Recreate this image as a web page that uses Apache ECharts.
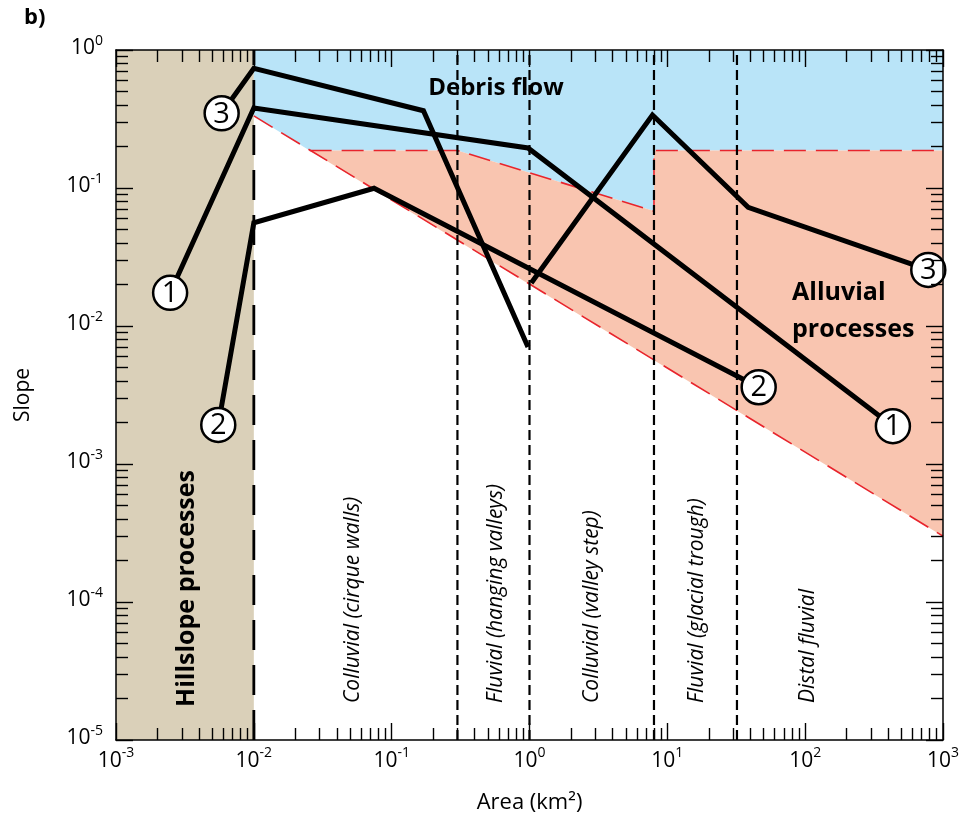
<!DOCTYPE html>
<html><head><meta charset="utf-8">
<script src="https://cdn.jsdelivr.net/npm/echarts@6/dist/echarts.min.js"></script>
<style>html,body{margin:0;padding:0;background:#fff}#c{width:961px;height:820px}</style>
</head><body><div id="c"></div>
<script>
// ---- data (area km², slope) ----
const xDecades = [-3, -2, -1, 0, 1, 2, 3];
const yDecades = [-5, -4, -3, -2, -1, 0];
const line1 = [[0.00247, 0.0174], [0.01, 0.38], [0.975, 0.195], [433, 0.00188]];
const line2 = [[0.00552, 0.00192], [0.01, 0.056], [0.0745, 0.0995], [46, 0.0036]];
const line3a = [[0.00584, 0.348], [0.01, 0.737], [0.17, 0.363], [0.975, 0.00705]];
const line3b = [[1.03, 0.0205], [7.8, 0.338], [38.6, 0.0725], [782, 0.0255]];
const zoneBounds = [0.3, 1, 8, 32];
const hillslopeBound = 0.01;
const zoneLabels = ['Colluvial (cirque walls)', 'Fluvial (hanging valleys)', 'Colluvial (valley step)', 'Fluvial (glacial trough)', 'Distal fluvial'];
const hillslopePoly = [[0.001, 1e-5], [0.01, 1e-5], [0.01, 1], [0.001, 1]];
const debrisPoly = [[0.01, 0.333], [0.0254, 0.187], [0.3, 0.187], [8, 0.068], [8, 0.187], [1000, 0.187], [1000, 1], [0.01, 1]];
const alluvialPoly = [[0.0254, 0.187], [0.3, 0.187], [8, 0.068], [8, 0.187], [1000, 0.187], [1000, 3.0e-4]];
const redDiag = [[0.01, 0.333], [1000, 3.0e-4]];
const redUpper = [[0.0254, 0.187], [0.3, 0.187], [8, 0.068], [8, 0.187], [1000, 0.187]];
const circleMarks = [
  { p: line1[0], n: '1' }, { p: line1[line1.length - 1], n: '1' },
  { p: line2[0], n: '2' }, { p: line2[line2.length - 1], n: '2' },
  { p: line3a[0], n: '3' }, { p: line3b[line3b.length - 1], n: '3' }
];

const FONT = 'Open Sans';
const XMIN = 1e-3, XMAX = 1e3, YMIN = 1e-5, YMAX = 1;
const BASE_FS = 21, SUP_FS = 14;

const mctx = document.createElement('canvas').getContext('2d');
function textW(t, fs) { mctx.font = fs + 'px "' + FONT + '"'; return mctx.measureText(t).width; }

function polySeries(points, style, z, kind) {
  return {
    type: 'custom', coordinateSystem: 'cartesian2d', z: z, silent: true, clip: false,
    data: [[1, 0.1]],
    renderItem: function (params, api) {
      return { type: kind, shape: { points: points.map(q => api.coord(q)) }, style: Object.assign({}, style) };
    }
  };
}

function txt(t, x, y, fs, align, vAlign) {
  return { type: 'text', x: x, y: y, style: { text: t, fontSize: fs, fontFamily: FONT, fill: '#000', align: align, verticalAlign: vAlign } };
}

const tickLabelSeries = {
  type: 'custom', coordinateSystem: 'cartesian2d', z: 9, silent: true, clip: false,
  data: [[1, 0.1]],
  renderItem: function (params, api) {
    const ch = [];
    xDecades.forEach(d => {
      const p = api.coord([Math.pow(10, d), YMIN]);
      const wb = textW('10', BASE_FS), ws = textW(String(d), SUP_FS);
      const left = p[0] - (wb + ws) / 2;
      ch.push(txt('10', left, p[1] + 21, BASE_FS, 'left', 'middle'));
      ch.push(txt(String(d), left + wb, p[1] + 13, SUP_FS, 'left', 'middle'));
    });
    yDecades.forEach(d => {
      const p = api.coord([XMIN, Math.pow(10, d)]);
      const ws = textW(String(d), SUP_FS);
      const right = p[0] - 13;
      ch.push(txt(String(d), right, p[1] - 9, SUP_FS, 'right', 'middle'));
      ch.push(txt('10', right - ws, p[1] - 2, BASE_FS, 'right', 'middle'));
    });
    return { type: 'group', children: ch };
  }
};

const circleSeries = {
  type: 'custom', coordinateSystem: 'cartesian2d', z: 12, silent: true, clip: false,
  data: circleMarks.map(c => [c.p[0], c.p[1], +c.n]),
  renderItem: function (params, api) {
    const c = api.coord([api.value(0), api.value(1)]);
    return { type: 'group', children: [
      { type: 'circle', shape: { cx: c[0], cy: c[1], r: 17 }, style: { fill: '#fff', stroke: '#000', lineWidth: 2.5 } },
      { type: 'text', x: c[0], y: c[1] + 1, style: { text: String(api.value(2)), fontSize: 29, fontFamily: FONT, fill: '#000', align: 'center', verticalAlign: 'middle' } }
    ] };
  }
};

function vLine(x, dash, width, z) {
  return polySeries([[x, YMIN], [x, YMAX]], { stroke: '#000', lineWidth: width, lineDash: dash, fill: null }, z, 'polyline');
}

function lineSeries(data) {
  return {
    type: 'line', data: data, z: 10, symbol: 'none', silent: true,
    lineStyle: { color: '#000', width: 5, join: 'miter', cap: 'butt' }
  };
}

// native axis ticks: majors at each decade, log minor ticks (2..9) via splitNumber 9
const axisLineStyle = { show: true, lineStyle: { color: '#000', width: 1.5 } };
const majorTick = { show: true, inside: true, length: 17, lineStyle: { color: '#000', width: 1.4 } };
const minorTickOpt = { show: true, splitNumber: 9, length: 12, lineStyle: { color: '#000', width: 1.4 } };

function xAxisDef(pos, extra) {
  return Object.assign({
    type: 'log', logBase: 10, min: XMIN, max: XMAX, splitNumber: 6, position: pos, z: 15,
    axisLine: axisLineStyle, axisTick: majorTick, minorTick: minorTickOpt,
    splitLine: { show: false }, minorSplitLine: { show: false }, axisLabel: { show: false }
  }, extra || {});
}
function yAxisDef(pos, extra) {
  return Object.assign({
    type: 'log', logBase: 10, min: YMIN, max: YMAX, splitNumber: 5, position: pos, z: 15,
    axisLine: axisLineStyle, axisTick: majorTick, minorTick: minorTickOpt,
    splitLine: { show: false }, minorSplitLine: { show: false }, axisLabel: { show: false }
  }, extra || {});
}

const option = {
  animation: false,
  backgroundColor: '#fff',
  grid: { left: 116, right: 18, top: 50, bottom: 80 },
  xAxis: [
    xAxisDef('bottom', { name: 'Area (km²)', nameLocation: 'middle', nameGap: 52,
      nameTextStyle: { fontSize: 22, fontFamily: FONT, color: '#000' } }),
    xAxisDef('top')
  ],
  yAxis: [
    yAxisDef('left', { name: 'Slope', nameLocation: 'middle', nameGap: 82,
      nameTextStyle: { fontSize: 21, fontFamily: FONT, color: '#000' } }),
    yAxisDef('right')
  ],
  series: [
    polySeries(hillslopePoly, { fill: '#dad0b9' }, 1, 'polygon'),
    polySeries(debrisPoly, { fill: '#b9e4f8' }, 1, 'polygon'),
    polySeries(alluvialPoly, { fill: '#f9c5b0' }, 1, 'polygon'),
    polySeries(redDiag, { stroke: '#e8242c', lineWidth: 1.6, lineDash: [22, 10], fill: null }, 3, 'polyline'),
    polySeries(redUpper, { stroke: '#e8242c', lineWidth: 1.6, lineDash: [22, 10], fill: null }, 3, 'polyline'),
    vLine(hillslopeBound, [30, 15], 2.8, 5),
    ...zoneBounds.map(b => vLine(b, [10, 5], 2.2, 5)),
    tickLabelSeries,
    lineSeries(line1), lineSeries(line2), lineSeries(line3a), lineSeries(line3b),
    circleSeries
  ],
  graphic: { elements: [
    { type: 'text', x: 24, y: 18, z: 100, style: { text: 'b)', fontSize: 22, fontWeight: 'bold', fontFamily: FONT, fill: '#000', align: 'left', verticalAlign: 'middle' } },
    { type: 'text', x: 496, y: 88, z: 100, style: { text: 'Debris flow', fontSize: 24, fontWeight: 'bold', fontFamily: FONT, fill: '#000', align: 'center', verticalAlign: 'middle' } },
    { type: 'text', x: 792, y: 293, z: 100, style: { text: 'Alluvial', fontSize: 25, fontWeight: 'bold', fontFamily: FONT, fill: '#000', align: 'left', verticalAlign: 'middle' } },
    { type: 'text', x: 792, y: 330, z: 100, style: { text: 'processes', fontSize: 25, fontWeight: 'bold', fontFamily: FONT, fill: '#000', align: 'left', verticalAlign: 'middle' } },
    { type: 'text', x: 187, y: 707, rotation: Math.PI / 2, z: 100, style: { text: 'Hillslope processes', fontSize: 25, fontWeight: 'bold', fontFamily: FONT, fill: '#000', align: 'left', verticalAlign: 'middle' } },
    ...[353, 496, 592, 697, 808].map((x, i) => ({
      type: 'text', x: x, y: 703, rotation: Math.PI / 2, z: 100,
      style: { text: zoneLabels[i], fontSize: 21, fontStyle: 'italic', fontFamily: FONT, fill: '#000', align: 'left', verticalAlign: 'middle' }
    }))
  ] }
};

const chart = echarts.init(document.getElementById('c'), null, { renderer: 'canvas' });
chart.setOption(option);
</script>
</body></html>
